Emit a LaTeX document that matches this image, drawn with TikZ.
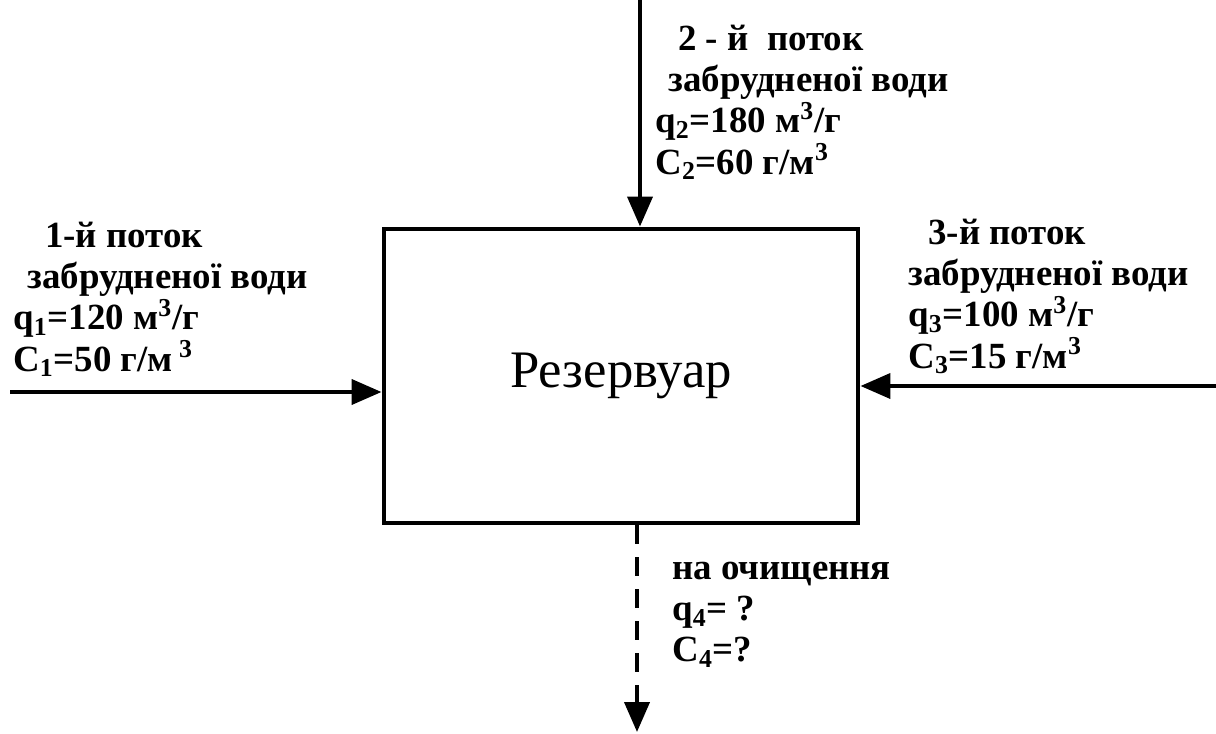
\documentclass[tikz,border=0pt]{standalone}
\usepackage{fontspec}
\setmainfont{Liberation Serif}
\usetikzlibrary{arrows.meta, positioning}

\begin{document}
\begin{tikzpicture}[
    x=0.02cm, y=-0.02cm,
    tank/.style={rectangle, draw=black, line width=2.3pt, minimum width=9.5cm,
                 minimum height=5.9cm, font=\fontsize{30}{34}\selectfont},
    lbl/.style={align=left, anchor=north west, inner sep=0pt,
                font=\bfseries\fontsize{21}{23.4}\selectfont},
    flow/.style={-{Triangle[length=0.6cm,width=0.5cm]}, line width=2.3pt},
    outflow/.style={flow, dash pattern=on 0.38cm off 0.26cm}
]
\useasboundingbox (0,0) rectangle (1216,733);

% reservoir
\node[tank] (res) at (621,376) {Резервуар};

% free ends of the flows
\coordinate (in1) at (10,392);
\coordinate (in2) at (640,0);
\coordinate (in3) at (1216,386);
\coordinate (out) at (637,732);

\draw[flow] (in1) -- (in1 -| res.west);
\draw[flow] (in2) -- (in2 |- res.north);
\draw[flow] (in3) -- (in3 -| res.east);
\draw[outflow] (out |- res.south) -- (out);

% labels
\node[lbl] (lbl1) at (13,222)
    {\hspace*{0.86em}1-й поток\\
     \hspace*{0.38em}забрудненої води\\
     q\textsubscript{1}=120 м\textsuperscript{3}/г\\
     C\textsubscript{1}=50 г/м\,\textsuperscript{3}};
\node[lbl] (lbl2) at (655,25)
    {\hspace*{0.62em}2 - й \ поток\\
     \hspace*{0.35em}забрудненої води\\
     q\textsubscript{2}=180 м\textsuperscript{3}/г\\
     C\textsubscript{2}=60 г/м\textsuperscript{3}};
\node[lbl] (lbl3) at (908,219)
    {\hspace*{0.54em}3-й поток\\
     забрудненої води\\
     q\textsubscript{3}=100 м\textsuperscript{3}/г\\
     C\textsubscript{3}=15 г/м\textsuperscript{3}};
\node[lbl] (lbl4) at (672,562)
    {на очищення\\
     q\textsubscript{4}= ?\\
     C\textsubscript{4}=?};
\end{tikzpicture}
\end{document}
